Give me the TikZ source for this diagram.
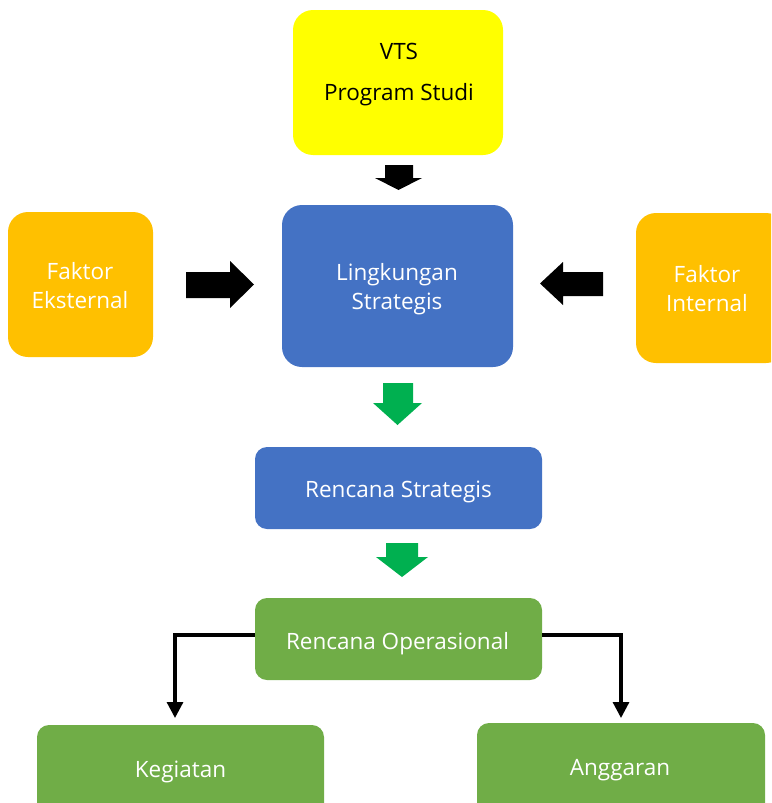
\documentclass[tikz,border=0pt]{standalone}
\usepackage{fontspec}
\setmainfont{Open Sans}
\usetikzlibrary{calc,arrows.meta}
\definecolor{cyel}{HTML}{FFFF00}
\definecolor{cblue}{HTML}{4472C4}
\definecolor{corange}{HTML}{FFC000}
\definecolor{cgreen}{HTML}{70AD47}
\definecolor{carrow}{HTML}{00B050}
\tikzset{
  box/.style={rounded corners=#1, inner sep=0pt},
  box/.default=12pt,
  lbl/.style={inner sep=0pt, align=center, text=white, font=\fontsize{22.5}{29}\selectfont},
  conn/.style={draw=black, line width=3.2pt, -{Triangle[length=16pt,width=16pt]}},
}
\begin{document}
\begin{tikzpicture}[x=1pt,y=-1pt]
\useasboundingbox (0,0) rectangle (771,803);
\begin{scope}
\clip (0,0) rectangle (771,803);
% boxes
\node[box=20pt, fill=cyel, minimum width=210pt, minimum height=145pt] (vts) at (398,82.5) {};
\node[lbl, text=black, font=\fontsize{22.5}{41}\selectfont] (vtslbl) at (399,74.5) {VTS\\Program Studi};
\node[box=20pt, fill=cblue, minimum width=231pt, minimum height=162pt] (ling) at (397.5,286) {};
\node[lbl] (linglbl) at (397,289) {Lingkungan\\Strategis};
\node[box=20pt, fill=corange, minimum width=145pt, minimum height=145pt] (eks) at (80.5,284.5) {};
\node[lbl] (ekslbl) at (80,285.5) {Faktor\\Eksternal};
\node[box=20pt, fill=corange, minimum width=150pt, minimum height=150pt] (int) at (711,288) {};
\node[lbl] (intlbl) at (707,289) {Faktor\\Internal};
\node[box, fill=cblue, minimum width=287pt, minimum height=82pt] (rs) at (398.5,488) {};
\node[lbl] (rslbl) at (398.5,492) {Rencana Strategis};
\node[box, fill=cgreen, minimum width=287pt, minimum height=82pt] (ro) at (398.5,639) {};
\node[lbl] (rolbl) at (397.5,644) {Rencana Operasional};
\node[box, fill=cgreen, minimum width=287pt, minimum height=90pt] (keg) at (180.5,770) {};
\node[lbl] (keglbl) at (180.5,771.5) {Kegiatan};
\node[box, fill=cgreen, minimum width=288pt, minimum height=92pt] (ang) at (621,769) {};
\node[lbl] (anglbl) at (620,770.5) {Anggaran};
\end{scope}
% block arrows
\fill[black] (385,165) -- (413,165) -- (413,178) -- (422,178) -- (398.5,190) -- (375,178) -- (385,178) -- cycle;
\fill[black] (186,272) -- (230,272) -- (230,261) -- (254,284.5) -- (230,308) -- (230,298) -- (186,298) -- cycle;
\fill[black] (603,272) -- (563,272) -- (563,262) -- (540,283.5) -- (563,305) -- (563,296) -- (603,296) -- cycle;
\fill[carrow] (383,383) -- (413,383) -- (413,403) -- (422,403) -- (397.5,425) -- (373,403) -- (383,403) -- cycle;
\fill[carrow] (386,543) -- (418,543) -- (418,557) -- (428,557) -- (402,577) -- (376,557) -- (386,557) -- cycle;
% connectors
\coordinate (kegin) at (175,718);
\coordinate (angin) at (621,718);
\draw[conn] ([yshift=4pt]ro.west) -| (kegin);
\draw[conn] ([yshift=4pt]ro.east) -| (angin);
\end{tikzpicture}
\end{document}
